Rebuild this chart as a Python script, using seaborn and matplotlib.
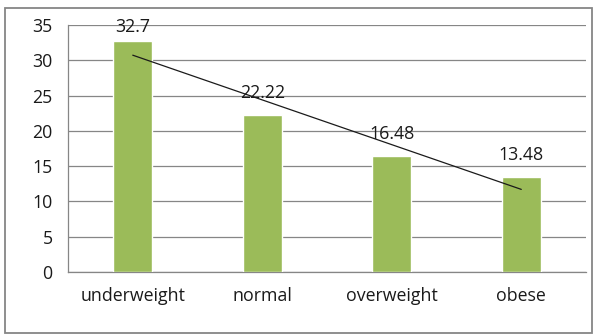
import numpy as np
import pandas as pd
import matplotlib
matplotlib.use("Agg")
import matplotlib.pyplot as plt
from matplotlib.patches import Rectangle
import seaborn as sns

categories = ["underweight", "normal", "overweight", "obese"]
values = [32.7, 22.22, 16.48, 13.48]
value_labels = ["32.7", "22.22", "16.48", "13.48"]
y_ticks = [0, 5, 10, 15, 20, 25, 30, 35]

df = pd.DataFrame({"category": categories, "value": values})

sns.set_style("white")
plt.rcParams["font.family"] = ["Open Sans", "DejaVu Sans"]

fig = plt.figure(figsize=(5.98, 3.34), dpi=100)
ax = fig.add_axes([0.1137, 0.1856, 0.8663, 0.7394])

grid_col = "#868686"
text_col = "#1a1a1a"
fs = 12.8

sns.barplot(data=df, x="category", y="value", color="#9BBB59",
            width=0.3, saturation=1, ax=ax, zorder=3)

# linear trendline, like excel
xs = np.arange(len(values))
slope, icpt = np.polyfit(xs, values, 1)
ax.plot(xs, slope * xs + icpt, color="#1a1a1a", lw=0.9, zorder=4)

# labels sit above the bars, but get squeezed under the top edge
for i, lab in enumerate(value_labels):
    ax.text(i, min(values[i] + 1.85, 33.5), lab, ha="center", va="bottom",
            fontsize=fs, color=text_col, zorder=5)

ax.set_xlim(-0.5, len(categories) - 0.5)
ax.set_ylim(0, 35)
ax.set_yticks(y_ticks)
ax.set_xlabel("")
ax.set_ylabel("")
ax.yaxis.grid(True, color=grid_col, lw=0.9, zorder=0)
ax.set_axisbelow(True)

# category ticks sit between groups
ax.set_xticks(np.arange(-0.5, len(categories)), minor=False)
ax.set_xticklabels([])
ax.set_xticks(xs, minor=True)
ax.set_xticklabels(categories, minor=True)
ax.tick_params(axis="x", which="major", direction="out", length=6,
               color=grid_col, width=0.9)
ax.tick_params(axis="x", which="minor", length=0, pad=11,
               labelsize=fs, labelcolor=text_col)
ax.tick_params(axis="y", direction="out", length=6, color=grid_col,
               width=0.9, labelsize=fs, labelcolor=text_col, pad=5)

for s in ["top", "right"]:
    ax.spines[s].set_visible(False)
for s in ["left", "bottom"]:
    ax.spines[s].set_color(grid_col)
    ax.spines[s].set_linewidth(0.9)

# outer chart border
fig.patches.append(Rectangle((5 / 598, 1 / 334), 587 / 598, 325 / 334,
                             transform=fig.transFigure, fill=False,
                             edgecolor="#868686", lw=1.3))

fig.savefig("out.png", dpi=100)
